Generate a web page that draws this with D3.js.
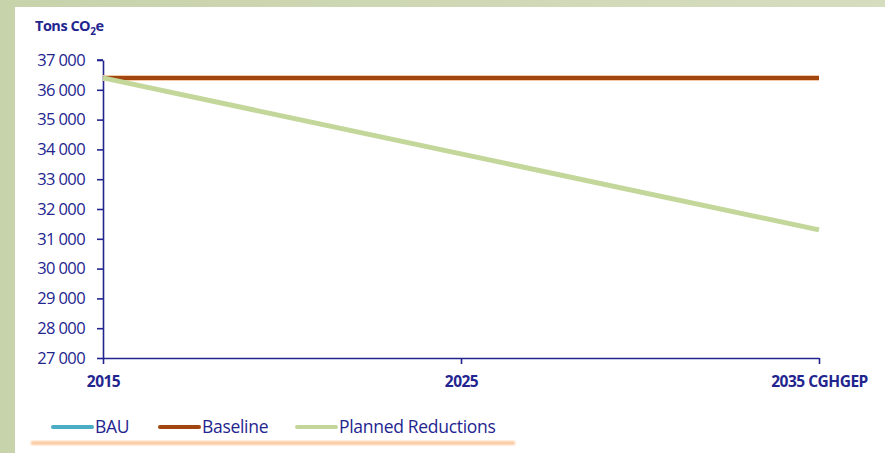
<!DOCTYPE html>
<html>
<head>
<meta charset="utf-8">
<script src="https://cdn.jsdelivr.net/npm/d3@7"></script>
<style>
body { margin: 0; background: #d3dbbd; }
</style>
</head>
<body>
<div id="chart"></div>
<script>
const years = ['2015', '2025', '2035 CGHGEP']
const bau = [36400, 36400, 36400]
const baseline = [36400, 36400, 36400]
const planned = [36400, 33850, 31300]
const yTicks = [27000, 28000, 29000, 30000, 31000, 32000, 33000, 34000, 35000, 36000, 37000]

const width = 885, height = 453
const navy = '#23258f'
const font = '"Open Sans", "Liberation Sans", sans-serif'

const svg = d3.select('#chart').append('svg')
	.attr('width', width)
	.attr('height', height)
	.style('display', 'block')

// background
const defs = svg.append('defs')
const grad = defs.append('linearGradient').attr('id', 'bg').attr('x1', 0).attr('x2', 1).attr('y1', 0).attr('y2', 0)
grad.append('stop').attr('offset', '0%').attr('stop-color', '#c7d3ab')
grad.append('stop').attr('offset', '100%').attr('stop-color', '#d5ddbf')
defs.append('filter').attr('id', 'blur').append('feGaussianBlur').attr('stdDeviation', 1.2)

svg.append('rect').attr('width', width).attr('height', height).attr('fill', 'url(#bg)')
svg.append('rect').attr('x', 15).attr('y', 7).attr('width', width - 15).attr('height', height - 7).attr('fill', '#fff')

const x = d3.scalePoint().domain(years).range([103, 819])
const y = d3.scaleLinear().domain([27000, 37000]).range([358, 60])

const yAxis = svg.append('g')
	.attr('transform', 'translate(103,0)')
	.call(d3.axisLeft(y).tickValues(yTicks).tickSize(6).tickSizeOuter(0).tickFormat(d => d3.format(',')(d).replace(',', ' ')))
yAxis.select('.domain').attr('stroke', navy).attr('stroke-width', 1.6)
yAxis.selectAll('.tick line').attr('stroke', navy).attr('stroke-width', 1.6)
yAxis.selectAll('.tick text').attr('fill', navy).attr('x', -18)
	.style('font-family', font).style('font-size', '16.5px').style('letter-spacing', '-0.6px')

const xAxis = svg.append('g')
	.attr('transform', 'translate(0,358)')
	.call(d3.axisBottom(x).tickSize(6).tickSizeOuter(0))
xAxis.select('.domain').attr('stroke', navy).attr('stroke-width', 1.6)
xAxis.selectAll('.tick line').attr('stroke', navy).attr('stroke-width', 1.6)
xAxis.selectAll('.tick text').attr('fill', navy).attr('y', 18)
	.style('font-family', font).style('font-size', '15.5px').style('font-weight', 'bold').style('letter-spacing', '-0.5px')

// small top tick on y axis like the reference
svg.append('line').attr('x1', 97).attr('x2', 103).attr('y1', y(37000)).attr('y2', y(37000)).attr('stroke', navy).attr('stroke-width', 1.6)

const line = d3.line().x((d, i) => x(years[i])).y(d => y(d))

svg.append('path').datum(bau).attr('d', line).attr('fill', 'none').attr('stroke', '#4bacc6').attr('stroke-width', 4)
svg.append('path').datum(baseline).attr('d', line).attr('fill', 'none').attr('stroke', '#f3c9a9').attr('stroke-width', 6)
svg.append('path').datum(baseline).attr('d', line).attr('fill', 'none').attr('stroke', '#a0460e').attr('stroke-width', 4)
svg.append('path').datum(planned).attr('d', line).attr('fill', 'none').attr('stroke', '#c3d79b').attr('stroke-width', 5)

// title
const title = svg.append('text').attr('x', 35).attr('y', 31).attr('fill', navy)
	.style('font-family', font).style('font-size', '14.5px').style('font-weight', 'bold').style('letter-spacing', '-0.5px')
title.append('tspan').text('Tons CO')
title.append('tspan').attr('dy', 4).style('font-size', '10px').text('2')
title.append('tspan').attr('dy', -4).text('e')

// legend
const legendItems = [
	{ name: 'BAU', color: '#4bacc6', x: 53 },
	{ name: 'Baseline', color: '#a0460e', x: 160 },
	{ name: 'Planned Reductions', color: '#c3d79b', x: 297 }
]
const lg = svg.append('g').selectAll('g').data(legendItems).join('g')
	.attr('transform', d => `translate(${d.x},427)`)
lg.append('line').attr('x1', 0).attr('x2', 39).attr('stroke', d => d.color).attr('stroke-width', 4).attr('stroke-linecap', 'round')
lg.append('text').attr('x', 42).attr('dy', '0.35em').attr('fill', navy).text(d => d.name)
	.style('font-family', font).style('font-size', '17.5px').style('letter-spacing', '-0.3px')

svg.append('rect').attr('x', 31).attr('y', 441).attr('width', 484).attr('height', 4)
	.attr('fill', '#fcc99f').attr('filter', 'url(#blur)')
</script>
</body>
</html>
